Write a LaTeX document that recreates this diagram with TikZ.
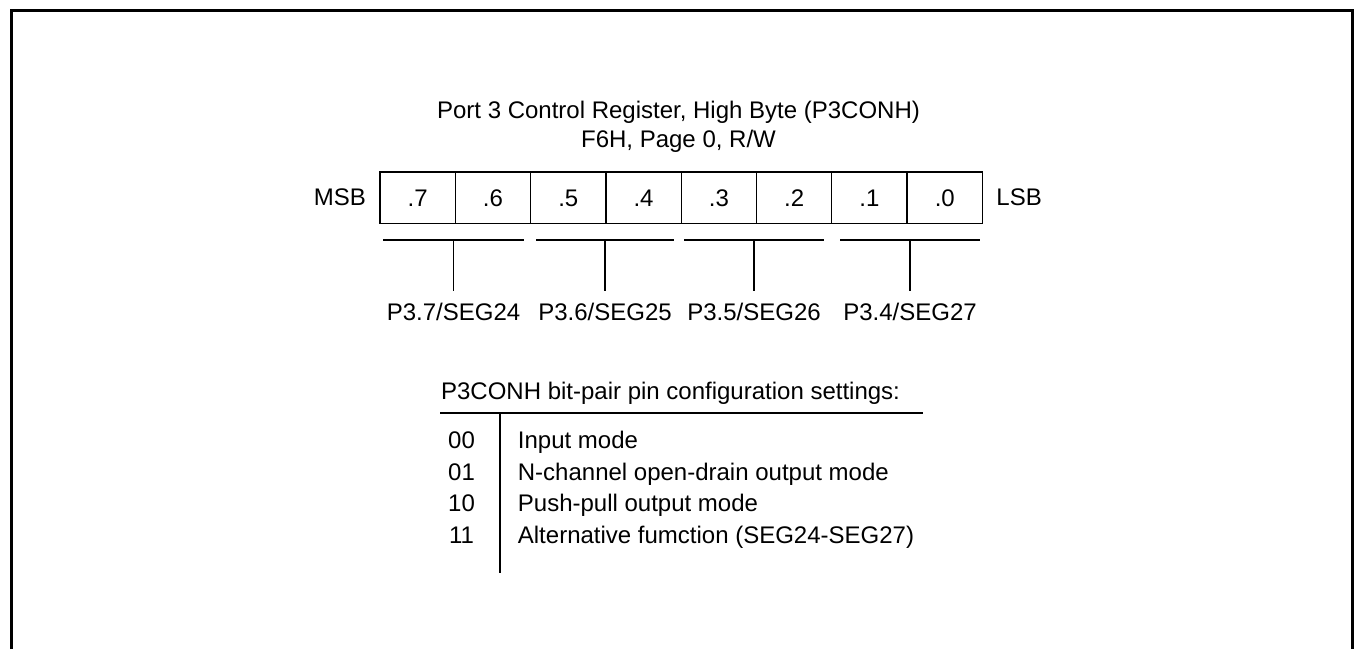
\documentclass[tikz,border=0pt]{standalone}
\usepackage{fontspec}
\setmainfont{Liberation Sans}
\usepackage{tikz}
\usetikzlibrary{calc,positioning}

\begin{document}
\begin{tikzpicture}[x=0.5pt, y=-0.5pt, font=\fontsize{12}{14}\selectfont,
    bitcell/.style={draw, line width=0.65pt, minimum width=37.65pt, minimum height=25.65pt,
        inner sep=0pt, text height=8.6pt, text depth=0pt},
    pinlabel/.style={anchor=base, inner sep=0pt},
    codetext/.style={anchor=base, inner sep=0pt},
    modetext/.style={anchor=base west, inner sep=0pt},
    rule/.style={line width=0.65pt}]
    \useasboundingbox (0,0) rectangle (1354,649);
    % outer frame, open at the bottom
    \draw[line width=1.5pt] (11.5,649) -- (11.5,10.7) -- (1352.5,10.7) -- (1352.5,649);
    \node[anchor=base, inner sep=0pt] (title) at (678.5,118.3) {Port 3 Control Register, High Byte (P3CONH)};
    \node[anchor=base, inner sep=0pt] (addr) at (678.5,147.3) {F6H, Page 0, R/W};
    % register bits
    \foreach \b [count=\i from 0] in {7,6,5,4,3,2,1,0} {
        \node[bitcell] (bit\b) at ({380+75.3*(\i+0.5)},197.65) {.\b};
    }
    \node[left=6.5pt of bit7, inner sep=0pt] (msb) {MSB};
    \node[right=6.5pt of bit0, inner sep=0pt] (lsb) {LSB};
    % bit-pair brackets and pin names
    \foreach \l/\r/\pin/\seg [count=\k] in {383/524/7/24, 536/674/6/25, 684/824/5/26, 840/980/4/27} {
        \coordinate (brL\k) at (\l,240);
        \coordinate (brR\k) at (\r,240);
        \coordinate (stem\k) at ($(brL\k)!0.5!(brR\k)$);
        \node[pinlabel] (pin\k) at ($(stem\k)+(0,80)$) {P3.\pin/SEG\seg};
        \draw[rule] (brL\k) -- (brR\k);
        \draw[rule, shorten >=5.4pt] (stem\k) -- (pin\k.north);
    }
    % settings table
    \node[modetext] (cfghead) at (440.7,399) {P3CONH bit-pair pin configuration settings:};
    \coordinate (ruleL) at (440,413);
    \coordinate (ruleR) at (923,413);
    \coordinate (colTop) at (500,413);
    \coordinate (colBot) at (500,573);
    \draw[rule] (ruleL) -- (ruleR);
    \draw[rule] (colTop) -- (colBot);
    \foreach \code/\mode [count=\r] in {00/{Input mode}, 01/{N-channel open-drain output mode},
        10/{Push-pull output mode}, 11/{Alternative fumction (SEG24-SEG27)}} {
        \node[codetext] (code\r) at (461.5,{417+31.5*\r}) {\code};
        \node[modetext] (mode\r) at (517.5,{417+31.5*\r}) {\mode};
    }
\end{tikzpicture}
\end{document}
